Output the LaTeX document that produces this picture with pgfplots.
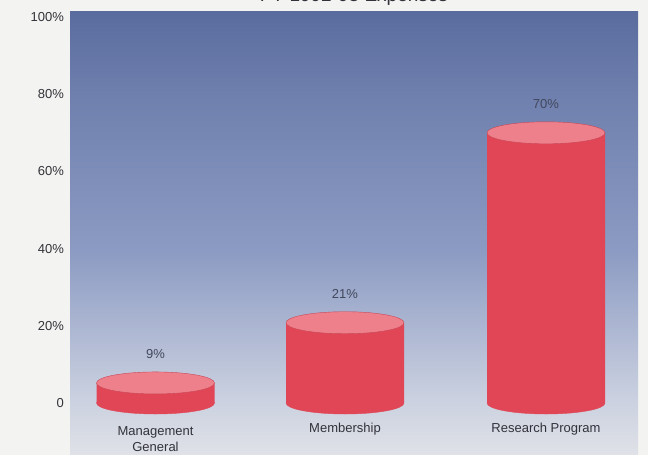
\documentclass[border=0pt]{standalone}
\usepackage{pgfplots}
\pgfplotsset{compat=1.18}
\usepackage{fontspec}
\setmainfont{Liberation Sans}
\definecolor{pagebg}{RGB}{243,243,241}
\definecolor{bgA}{RGB}{224,226,232}
\definecolor{bgB}{RGB}{218,221,229}
\definecolor{bgC}{RGB}{203,209,224}
\definecolor{bgD}{RGB}{140,155,195}
\definecolor{bgE}{RGB}{112,129,175}
\definecolor{bgF}{RGB}{90,108,158}
\definecolor{barred}{RGB}{224,70,86}
\definecolor{barpink}{RGB}{238,128,140}
\definecolor{baredge}{RGB}{200,70,85}
\definecolor{txt}{RGB}{50,50,58}
\definecolor{valtxt}{RGB}{66,72,92}
\pgfdeclareverticalshading{bgshade}{100bp}{color(0bp)=(bgA); color(25bp)=(bgA); color(26.7bp)=(bgB); color(31.2bp)=(bgC); color(48bp)=(bgD); color(65bp)=(bgE); color(75bp)=(bgF); color(100bp)=(bgF)}
\pgfdeclareplotmark{cylell}{%
  \pgfpathellipse{\pgfpointorigin}{\pgfqpoint{59pt}{0pt}}{\pgfqpoint{0pt}{11pt}}%
  \pgfusepathqfillstroke}
\begin{document}
\begin{tikzpicture}
\useasboundingbox (0,0) rectangle (648pt,455pt);
\clip (0,0) rectangle (648pt,455pt);
\fill[pagebg] (0,0) rectangle (648pt,455pt);
\node[anchor=base, font=\fontsize{19}{21}\selectfont, text=txt] at (354pt,453pt) {FY 1992-93 Expenses};
\begin{axis}[
  at={(70pt,0pt)}, anchor=south west,
  scale only axis, width=568pt, height=443pt,
  xmin=70, xmax=638, ymin=-13.47, ymax=101.3,
  axis line style={draw=none},
  major tick length=0pt,
  xtick=\empty,
  ytick={0,20,40,60,80,100},
  yticklabels={0,20\%,40\%,60\%,80\%,100\%},
  yticklabel style={font=\fontsize{13}{15}\selectfont, text=txt, xshift=-2.5pt},
  axis background/.style={shading=bgshade},
  clip=false,
]
% bottom ellipses
\addplot[only marks, mark=cylell, mark options={fill=barred, draw=barred, line width=0.4pt}]
  coordinates {(155.5,0) (345,0) (546,0)};
% bodies
\addplot[ybar, bar width=118, fill=barred, draw=none]
  coordinates {(155.5,5.2) (345,20.8) (546,70)};
% top ellipses with value labels
\addplot[only marks, mark=cylell, mark options={fill=barpink, draw=baredge, line width=0.4pt},
  point meta=explicit symbolic,
  nodes near coords={\pgfplotspointmeta\%},
  every node near coord/.append style={anchor=base, yshift=24.5pt, font=\fontsize{13}{15}\selectfont, text=valtxt}]
  coordinates {(155.5,5.2) [9] (345,20.8) [21] (546,70) [70]};
\node[anchor=base, font=\fontsize{13}{15}\selectfont, text=txt] at (axis cs:155.5,-8.3) {Management};
\node[anchor=base, font=\fontsize{13}{15}\selectfont, text=txt] at (axis cs:155.5,-12.6) {General};
\node[anchor=base, font=\fontsize{13}{15}\selectfont, text=txt] at (axis cs:345,-7.6) {Membership};
\node[anchor=base, font=\fontsize{13}{15}\selectfont, text=txt] at (axis cs:546,-7.6) {Research Program};
\end{axis}
\end{tikzpicture}
\end{document}
